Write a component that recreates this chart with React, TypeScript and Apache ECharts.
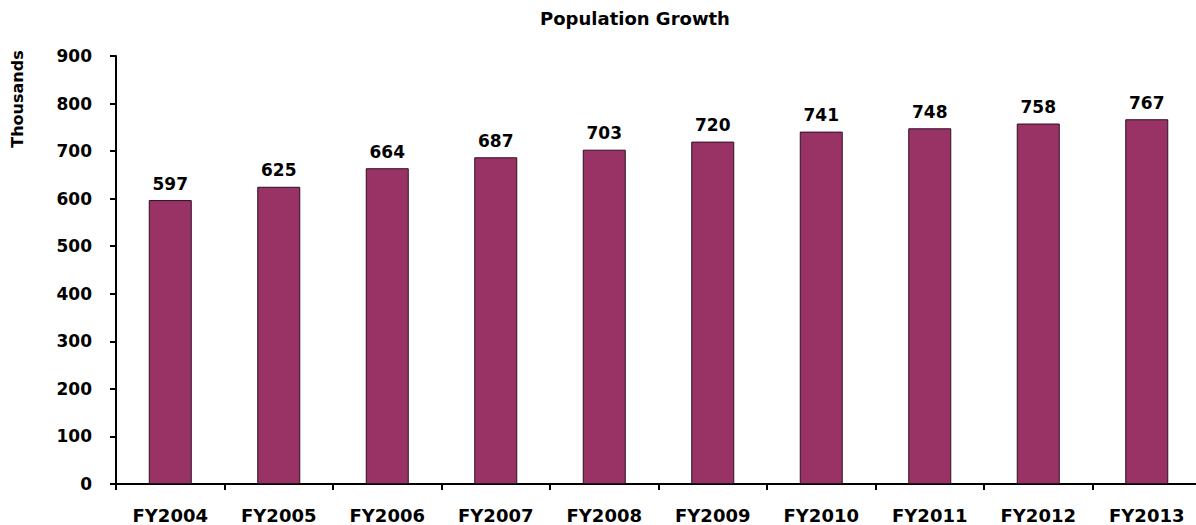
import React, { useEffect, useRef } from "react";
import * as echarts from "echarts";

const categories = ["FY2004", "FY2005", "FY2006", "FY2007", "FY2008", "FY2009", "FY2010", "FY2011", "FY2012", "FY2013"];
const population = [597, 625, 664, 687, 703, 720, 741, 748, 758, 767];
const yTicks = { min: 0, max: 900, interval: 100 };

const FONT = "DejaVu Sans";

export default function App() {
  const ref = useRef<HTMLDivElement>(null);

  useEffect(() => {
    if (!ref.current) return;
    const chart = echarts.init(ref.current, undefined, { renderer: "svg" });
    chart.setOption({
      animation: false,
      backgroundColor: "#ffffff",
      grid: { left: 116, right: 9, top: 56, bottom: 41, containLabel: false },
      graphic: [
        {
          type: "text",
          x: 635,
          y: 18,
          style: {
            text: "Population Growth",
            font: `bold 18px "${FONT}"`,
            fill: "#000",
            textAlign: "center",
            textVerticalAlign: "middle",
          },
        },
        {
          type: "text",
          x: 17,
          y: 99,
          rotation: Math.PI / 2,
          style: {
            text: "Thousands",
            font: `bold 16px "${FONT}"`,
            fill: "#000",
            textAlign: "center",
            textVerticalAlign: "middle",
          },
        },
      ],
      xAxis: {
        type: "category",
        data: categories,
        axisLine: { lineStyle: { color: "#000", width: 2 } },
        axisTick: { show: true, length: 6, alignWithLabel: false, lineStyle: { color: "#000", width: 2 } },
        axisLabel: { color: "#000", fontFamily: FONT, fontWeight: "bold", fontSize: 18, margin: 22 },
        splitLine: { show: false },
      },
      yAxis: {
        type: "value",
        min: yTicks.min,
        max: yTicks.max,
        interval: yTicks.interval,
        axisLine: { show: true, lineStyle: { color: "#000", width: 2 } },
        axisTick: { show: true, length: 6, lineStyle: { color: "#000", width: 2 } },
        axisLabel: { color: "#000", fontFamily: FONT, fontWeight: "bold", fontSize: 17, margin: 24 },
        splitLine: { show: false },
      },
      series: [
        {
          type: "bar",
          data: population,
          barWidth: 43,
          itemStyle: { color: "#993366", borderColor: "#2a1020", borderWidth: 1 },
          label: {
            show: true,
            position: "top",
            distance: 8,
            color: "#000",
            fontFamily: FONT,
            fontWeight: "bold",
            fontSize: 17,
          },
        },
      ],
    });
    return () => chart.dispose();
  }, []);

  return (
    <div style={{ position: "absolute", left: 0, top: 0, width: 1196, height: 525, overflow: "hidden", background: "#fff" }}>
      <div ref={ref} style={{ width: 1210, height: 525 }} />
    </div>
  );
}
